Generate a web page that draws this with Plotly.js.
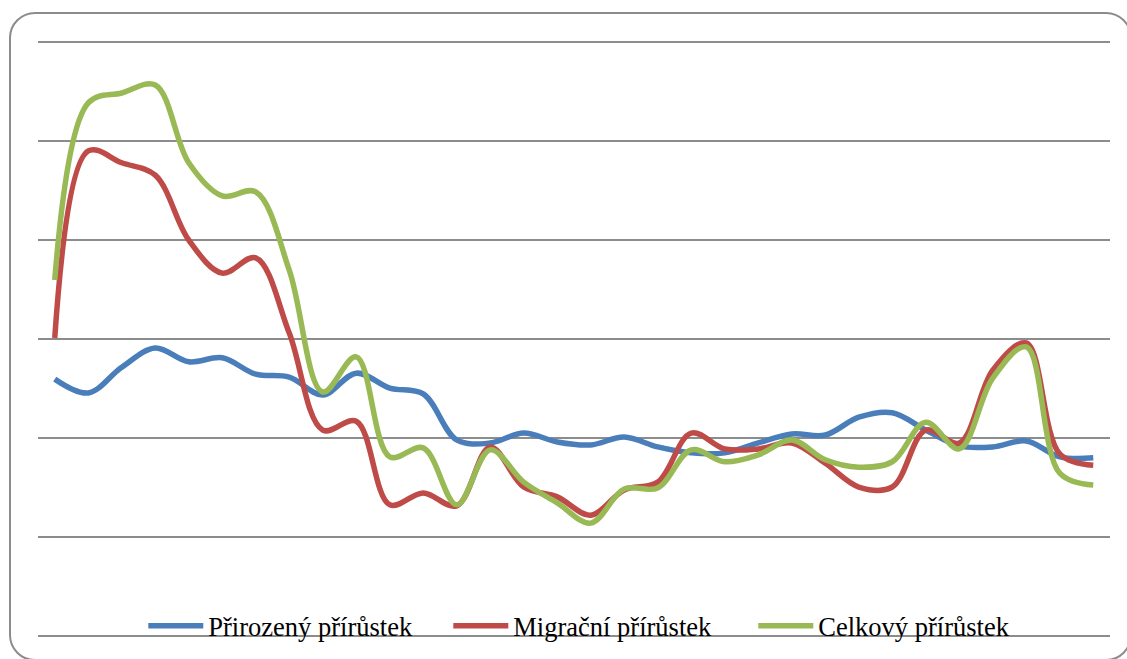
<!DOCTYPE html>
<html>
<head>
<meta charset="utf-8">
<script src="https://cdn.plot.ly/plotly-3.0.1.min.js"></script>
<style>
  html, body { margin: 0; padding: 0; background: #ffffff; width: 1127px; height: 659px; overflow: hidden; }
  #frame { position: absolute; left: 9px; top: 12px; width: 1123px; height: 649px; box-sizing: border-box;
           border: 2px solid #8c8c8c; border-radius: 26px; background: #ffffff; }
  #chart { position: absolute; left: 0; top: 0; width: 1127px; height: 659px; }
</style>
</head>
<body>
<div id="frame"></div>
<div id="chart"></div>
<script>
// Categories (periods, axis labels are not shown in the original)
const obdobi = Array.from({length: 32}, (_, i) => String(i + 1));

// Series values
const prirozeny = [1.19, 0.91, 1.43, 1.82, 1.54, 1.62, 1.29, 1.23, 0.87, 1.31, 1.01, 0.89,
                   -0.04, -0.10, 0.10, -0.08, -0.14, 0.02, -0.18, -0.30, -0.30, -0.10, 0.08, 0.06,
                   0.42, 0.51, 0.16, -0.16, -0.18, -0.06, -0.38, -0.40];
const migracni  = [2.02, 5.80, 5.56, 5.31, 4.00, 3.33, 3.64, 2.12, 0.16, 0.34, -1.35, -1.11,
                   -1.37, -0.18, -0.99, -1.19, -1.56, -1.05, -0.89, 0.10, -0.22, -0.22, -0.10, -0.51,
                   -0.99, -0.99, 0.16, -0.10, 1.37, 1.92, -0.32, -0.55];
const celkovy   = [3.19, 6.77, 6.97, 7.13, 5.56, 4.89, 4.97, 3.39, 0.93, 1.64, -0.38, -0.20,
                   -1.35, -0.24, -0.89, -1.31, -1.72, -1.03, -1.01, -0.24, -0.48, -0.34, -0.04, -0.44,
                   -0.59, -0.48, 0.32, -0.22, 1.21, 1.84, -0.71, -0.95];

const names = ['Přirozený přírůstek', 'Migrační přírůstek', 'Celkový přírůstek'];
const colors = ['#4a7ebb', '#be4b48', '#98b954'];
const series = [prirozeny, migracni, celkovy];

const traces = series.map((vals, k) => ({
  type: 'scatter',
  mode: 'lines',
  name: names[k],
  x: obdobi.map((_, i) => i),
  y: vals,
  line: { color: colors[k], width: 5.5, shape: 'spline', smoothing: 1 }
}));

const layout = {
  width: 1127, height: 659,
  paper_bgcolor: 'rgba(0,0,0,0)',
  plot_bgcolor: 'rgba(0,0,0,0)',
  margin: { l: 38, r: 17, t: 40, b: 21, autoexpand: false },
  showlegend: true,
  legend: {
    orientation: 'h', x: 0.525, xanchor: 'center', y: 0.02, yanchor: 'middle',
    bgcolor: 'rgba(0,0,0,0)',
    font: { family: 'Liberation Serif', size: 26.5, color: '#000000' },
    itemwidth: 55,
    entrywidth: 235, entrywidthmode: 'pixels'
  },
  xaxis: {
    range: [-0.5, 31.5], showgrid: false, zeroline: false, showticklabels: false,
    ticks: '', showline: false, fixedrange: true
  },
  yaxis: {
    range: [-4 - 4/99, 8 + 4/99], dtick: 2, tick0: 0,
    showgrid: true, gridcolor: '#8c8c8c', gridwidth: 2,
    zeroline: false, showticklabels: false, ticks: '', showline: false, fixedrange: true
  }
};

Plotly.newPlot('chart', traces, layout, { staticPlot: true, displayModeBar: false });
</script>
</body>
</html>
